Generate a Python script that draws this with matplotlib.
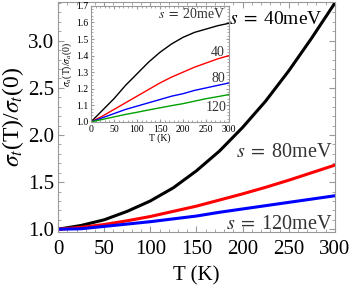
import matplotlib
matplotlib.use("Agg")
import matplotlib.pyplot as plt
from matplotlib.ticker import MultipleLocator

plt.rcParams["font.family"] = ["Liberation Serif", "DejaVu Serif"]
plt.rcParams["mathtext.fontset"] = "stix"

# main panel: sigma_t(T)/sigma_t(0)
T = [0, 25, 50, 75, 100, 125, 150, 175, 200, 225, 250, 275, 300]
main_s40 = [1.0, 1.04, 1.10, 1.19, 1.30, 1.44, 1.62, 1.83, 2.08, 2.36, 2.68, 3.03, 3.40]
main_s80 = [1.0, 1.02, 1.05, 1.09, 1.135, 1.19, 1.245, 1.31, 1.375, 1.445, 1.52, 1.60, 1.68]
main_s120 = [1.0, 1.005, 1.03, 1.055, 1.08, 1.11, 1.14, 1.18, 1.215, 1.25, 1.285, 1.32, 1.355]

# inset: sigma_a(T)/sigma_a(0)
Ti = [0, 25, 50, 75, 100, 125, 150, 175, 200, 225, 250, 275, 300]
ins_s20 = [1.0, 1.07, 1.14, 1.22, 1.29, 1.36, 1.42, 1.47, 1.51, 1.54, 1.56, 1.58, 1.595]
ins_s40 = [1.0, 1.035, 1.075, 1.115, 1.155, 1.195, 1.235, 1.27, 1.30, 1.33, 1.355, 1.38, 1.40]
ins_s80 = [1.0, 1.025, 1.05, 1.075, 1.095, 1.115, 1.135, 1.155, 1.17, 1.19, 1.205, 1.22, 1.235]
ins_s120 = [1.0, 1.015, 1.03, 1.045, 1.058, 1.072, 1.085, 1.098, 1.11, 1.125, 1.14, 1.152, 1.165]

fig = plt.figure(figsize=(3.54, 2.93), dpi=100)
ax = fig.add_axes([0.164, 0.208, 0.782, 0.785])
ax.plot(T, main_s40, color="black", lw=2.2)
ax.plot(T, main_s80, color="#ff0000", lw=2.2)
ax.plot(T, main_s120, color="#0000ff", lw=2.2)
ax.set_xlim(0, 300)
ax.set_ylim(0.97, 3.41)
ax.set_xticks([0, 50, 100, 150, 200, 250, 300])
ax.set_yticks([1.0, 1.5, 2.0, 2.5, 3.0])
ax.set_yticklabels(["1.0", "1.5", "2.0", "2.5", "3.0"])
ax.xaxis.set_minor_locator(MultipleLocator(10))
ax.yaxis.set_minor_locator(MultipleLocator(0.1))
ax.tick_params(which="both", direction="in", top=True, right=True,
               color="#999999", labelsize=15)
ax.tick_params(axis="x", pad=6)
ax.tick_params(axis="y", pad=3)
ax.tick_params(which="major", length=4)
ax.tick_params(which="minor", length=2)
for sp in ax.spines.values():
    sp.set_color("#999999")
ax.set_xlabel("T (K)", fontsize=15, labelpad=5)
ax.set_ylabel(r"$\sigma_t$(T)/$\sigma_t$(0)", fontsize=17, labelpad=1)
ax.text(0.955, 0.925, r"$s\;=\;$40meV", transform=ax.transAxes, ha="right",
        va="center", fontsize=14)
ax.text(0.99, 0.345, r"$s\;=\;$80meV", transform=ax.transAxes, ha="right",
        va="center", fontsize=14.5, color="#333333")
ax.text(0.99, 0.035, r"$s\;=\;$120meV", transform=ax.transAxes, ha="right",
        va="center", fontsize=14.5, color="#333333")

ins = fig.add_axes([0.257, 0.584, 0.39, 0.396])
ins.plot(Ti, ins_s20, color="black", lw=1.0)
ins.plot(Ti, ins_s40, color="#ff0000", lw=1.0)
ins.plot(Ti, ins_s80, color="#0000ff", lw=1.0)
ins.plot(Ti, ins_s120, color="#00a000", lw=1.0)
ins.set_xlim(0, 300)
ins.set_ylim(1.0, 1.7)
ins.set_xticks([0, 50, 100, 150, 200, 250, 300])
ins.set_yticks([1.0, 1.1, 1.2, 1.3, 1.4, 1.5, 1.6, 1.7])
ins.xaxis.set_minor_locator(MultipleLocator(10))
ins.yaxis.set_minor_locator(MultipleLocator(0.02))
ins.tick_params(which="both", direction="in", top=True, right=True,
                color="#999999", labelsize=7, pad=2)
ins.tick_params(which="major", length=2.5)
ins.tick_params(which="minor", length=1.2)
for sp in ins.spines.values():
    sp.set_color("#999999")
ins.set_xlabel("T (K)", fontsize=7, labelpad=0)
ins.set_ylabel(r"$\sigma_a$(T)/$\sigma_a$(0)", fontsize=7, labelpad=1)
ins.text(0.97, 0.93, r"$s\;=\;$20meV", transform=ins.transAxes, ha="right",
         va="center", fontsize=10, color="#333333")
ins.text(0.97, 0.60, "40", transform=ins.transAxes, ha="right",
         va="center", fontsize=10, color="#333333")
ins.text(0.97, 0.375, "80", transform=ins.transAxes, ha="right",
         va="center", fontsize=10, color="#333333")
ins.text(0.98, 0.12, "120", transform=ins.transAxes, ha="right",
         va="center", fontsize=10, color="#333333")

fig.savefig("out.png", dpi=100)
